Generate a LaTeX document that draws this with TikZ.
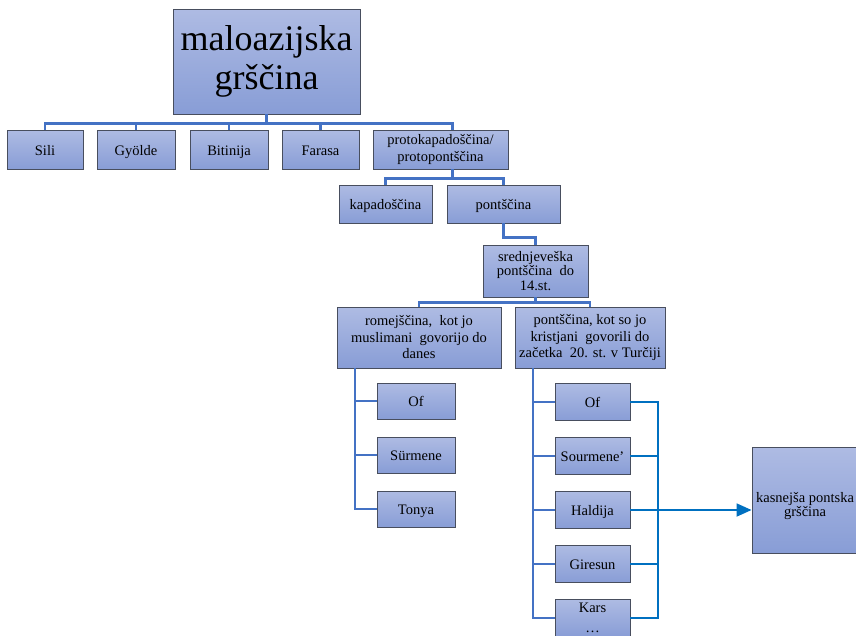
\documentclass[tikz,border=0pt]{standalone}
\usepackage{fontspec}
\setmainfont{Liberation Serif}
\usepackage{tikz}
\usetikzlibrary{arrows.meta}

\definecolor{boxtop}{RGB}{174,187,227}
\definecolor{boxbot}{RGB}{136,157,214}
\definecolor{boxline}{RGB}{72,78,94}
\definecolor{treeblue}{RGB}{68,114,196}
\definecolor{linkblue}{RGB}{0,112,192}

\begin{document}
\begin{tikzpicture}[x=1pt,y=-1pt,
  box/.style={draw=boxline,line width=0.9pt,top color=boxtop,bottom color=boxbot,
    align=center,inner sep=1pt,font=\fontsize{14.5}{16.5}\selectfont},
  sz/.style 2 args={minimum width=#1,minimum height=#2},
  oneline/.style={text height=12pt,text depth=1pt},
  tree/.style={draw=treeblue,line width=2.6pt},
  link/.style={draw=linkblue,line width=1.8pt}]
  \useasboundingbox (0,0) rectangle (856,635);

  % top level
  \node[box,sz={187pt}{105pt},font=\fontsize{36}{39}\selectfont] (top) at (266.5,61.5)
    {maloazijska\\grščina};
  \node[box,oneline,sz={76pt}{39pt}] (sili) at (45,149.5) {Sili};
  \node[box,oneline,sz={78pt}{39pt}] (gyolde) at (136,149.5) {Gyölde};
  \node[box,oneline,sz={78pt}{39pt}] (bitinija) at (229,149.5) {Bitinija};
  \node[box,oneline,sz={77pt}{39pt}] (farasa) at (320.5,149.5) {Farasa};
  \node[box,sz={135pt}{39pt},font=\fontsize{14.5}{17}\selectfont] (proto) at (440.5,149.5)
    {protokapadoščina/\\protopontščina};
  \node[box,oneline,sz={93pt}{38pt}] (kapa) at (385.5,204) {kapadoščina};
  \node[box,oneline,sz={113pt}{38pt}] (pont) at (503.5,204) {pontščina};
  \node[box,sz={105pt}{52pt},font=\fontsize{14.5}{14.5}\selectfont] (sred) at (535.5,271)
    {srednjeveška\\pontščina~ do\\14.st.};
  \node[box,sz={164pt}{61pt}] (rom) at (419,337.5)
    {romejščina,~ kot jo\\muslimani~ govorijo do\\danes};
  \node[box,sz={150pt}{61pt}] (pont2) at (590,337.5)
    {pontščina, kot so jo\\kristjani~ govorili do\\začetka~ 20. st. v Turčiji};

  % romejscina
  \node[box,oneline,sz={78pt}{36pt}] (rof) at (416,401) {Of};
  \node[box,oneline,sz={78pt}{36pt}] (rsur) at (416,455) {Sürmene};
  \node[box,oneline,sz={78pt}{36pt}] (rtonya) at (416,509) {Tonya};

  % pontscina
  \node[box,oneline,sz={75pt}{37pt}] (pof) at (592.5,402) {Of};
  \node[box,oneline,sz={75pt}{37pt}] (psour) at (592.5,456) {Sourmene'};
  \node[box,oneline,sz={75pt}{37pt}] (phal) at (592.5,510) {Haldija};
  \node[box,oneline,sz={75pt}{37pt}] (pgir) at (592.5,564) {Giresun};
  \node[box,sz={75pt}{37pt}] (pkars) at (592.5,618) {Kars\\[3pt]\dots};

  \node[box,sz={106pt}{106pt},font=\fontsize{14.5}{14}\selectfont] (late) at (805,500)
    {\rule{0pt}{22pt}kasnejša pontska\\grščina};

  \foreach \c in {sili,gyolde,bitinija,farasa}
    \draw[tree] (top.south) -- ++(0,9) -| (\c.north);
  \draw[tree] (top.south) -- ++(0,9) -| ([xshift=12pt]proto.north);
  \foreach \c in {kapa,pont}
    \draw[tree] ([xshift=12pt]proto.south) -- ++(0,9) -| (\c.north);
  \draw[tree] (pont.south) -- ++(0,14) -| (sred.north);
  \foreach \c in {rom,pont2}
    \draw[tree] (sred.south) -- ++(0,5) -| (\c.north);
  \foreach \c in {rof,rsur,rtonya}
    \draw[tree] ([xshift=-64pt]rom.south) |- (\c.west);
  \foreach \c in {pof,psour,phal,pgir,pkars}
    \draw[tree] ([xshift=-57pt]pont2.south) |- (\c.west);

  \coordinate (jn) at (658,510);
  \foreach \c in {pof,psour,phal,pgir,pkars}
    \draw[link] (\c.east) -| (jn);
  \draw[link,-{Triangle[length=15pt,width=13pt]}] (jn) -- (jn -| late.west);
\end{tikzpicture}
\end{document}
